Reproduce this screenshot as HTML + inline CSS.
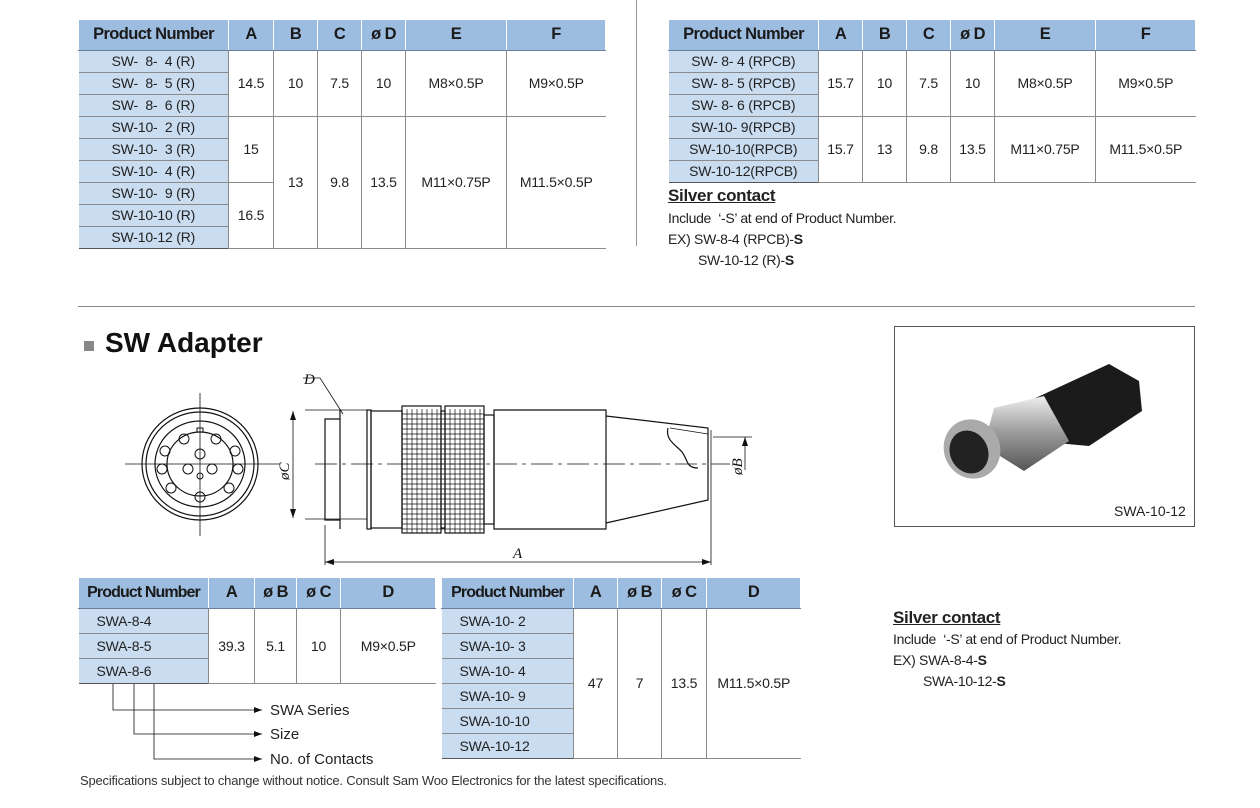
<!DOCTYPE html>
<html><head><meta charset="utf-8">
<style>
body{margin:0;width:1260px;height:808px;background:#fff;position:relative;overflow:hidden;font-family:"Liberation Sans",Arial,sans-serif;color:#222}
.t{position:absolute;border-collapse:collapse;table-layout:fixed;font-size:14px;letter-spacing:-0.2px}
.t td{padding:0;text-align:center;border:1px solid #8a8a8a;white-space:nowrap;overflow:hidden}
.t tr td:first-child{border-left:none}
.t tr td:last-child{border-right:none}
.t tr.h td{background:#9dbde0;font-weight:bold;font-size:16.5px;letter-spacing:-0.6px;border-top:none;border-left:1px solid #fff;border-right:1px solid #fff;border-bottom:1px solid #6a7f99;color:#1a1a1a}
.t td.p{background:#c9dcf0}
.t tr:last-child td{border-bottom:1px solid #555}
.abs{position:absolute;white-space:nowrap}
</style></head><body>

<table class="t" style="left:78px;top:20px;width:527px">
<colgroup><col style="width:150px"><col style="width:45px"><col style="width:44px"><col style="width:44px"><col style="width:44px"><col style="width:101px"><col style="width:99px"></colgroup>
<tr class="h" style="height:30px"><td>Product Number</td><td>A</td><td>B</td><td>C</td><td>ø D</td><td>E</td><td>F</td></tr>
<tr style="height:22px"><td class="p">SW-&nbsp; 8-&nbsp; 4 (R)</td><td rowspan="3">14.5</td><td rowspan="3">10</td><td rowspan="3">7.5</td><td rowspan="3">10</td><td rowspan="3">M8×0.5P</td><td rowspan="3">M9×0.5P</td></tr>
<tr style="height:22px"><td class="p">SW-&nbsp; 8-&nbsp; 5 (R)</td></tr>
<tr style="height:22px"><td class="p">SW-&nbsp; 8-&nbsp; 6 (R)</td></tr>
<tr style="height:22px"><td class="p">SW-10-&nbsp; 2 (R)</td><td rowspan="3">15</td><td rowspan="6">13</td><td rowspan="6">9.8</td><td rowspan="6">13.5</td><td rowspan="6">M11×0.75P</td><td rowspan="6">M11.5×0.5P</td></tr>
<tr style="height:22px"><td class="p">SW-10-&nbsp; 3 (R)</td></tr>
<tr style="height:22px"><td class="p">SW-10-&nbsp; 4 (R)</td></tr>
<tr style="height:22px"><td class="p">SW-10-&nbsp; 9 (R)</td><td rowspan="3">16.5</td></tr>
<tr style="height:22px"><td class="p">SW-10-10 (R)</td></tr>
<tr style="height:22px"><td class="p">SW-10-12 (R)</td></tr>
</table>

<div class="abs" style="left:636px;top:0;width:1px;height:246px;background:#999"></div>

<table class="t" style="left:668px;top:20px;width:527px">
<colgroup><col style="width:150px"><col style="width:44px"><col style="width:44px"><col style="width:44px"><col style="width:44px"><col style="width:101px"><col style="width:100px"></colgroup>
<tr class="h" style="height:30px"><td>Product Number</td><td>A</td><td>B</td><td>C</td><td>ø D</td><td>E</td><td>F</td></tr>
<tr style="height:22px"><td class="p">SW- 8- 4 (RPCB)</td><td rowspan="3">15.7</td><td rowspan="3">10</td><td rowspan="3">7.5</td><td rowspan="3">10</td><td rowspan="3">M8×0.5P</td><td rowspan="3">M9×0.5P</td></tr>
<tr style="height:22px"><td class="p">SW- 8- 5 (RPCB)</td></tr>
<tr style="height:22px"><td class="p">SW- 8- 6 (RPCB)</td></tr>
<tr style="height:22px"><td class="p">SW-10- 9(RPCB)</td><td rowspan="3">15.7</td><td rowspan="3">13</td><td rowspan="3">9.8</td><td rowspan="3">13.5</td><td rowspan="3">M11×0.75P</td><td rowspan="3">M11.5×0.5P</td></tr>
<tr style="height:22px"><td class="p">SW-10-10(RPCB)</td></tr>
<tr style="height:22px"><td class="p">SW-10-12(RPCB)</td></tr>
</table>

<div class="abs" style="left:668px;top:186px;font-size:17px;font-weight:bold;text-decoration:underline;letter-spacing:-0.3px">Silver contact</div>
<div class="abs" style="left:668px;top:210px;font-size:14px;letter-spacing:-0.3px">Include &nbsp;‘-S’ at end of Product Number.</div>
<div class="abs" style="left:668px;top:231px;font-size:14px;letter-spacing:-0.3px">EX) SW-8-4 (RPCB)-<b>S</b></div>
<div class="abs" style="left:698px;top:252px;font-size:14px;letter-spacing:-0.3px">SW-10-12 (R)-<b>S</b></div>

<div class="abs" style="left:78px;top:306px;width:1117px;height:1px;background:#888"></div>

<div class="abs" style="left:84px;top:341px;width:10px;height:10px;background:#888"></div>
<div class="abs" style="left:105px;top:327px;font-size:28px;font-weight:bold;color:#111">SW Adapter</div>

<svg class="abs" style="left:0;top:0" width="1260" height="808" viewBox="0 0 1260 808">
<g fill="none" stroke="#111" stroke-width="1.2">
<ellipse cx="200" cy="464" rx="58" ry="56"/>
<ellipse cx="200" cy="464" rx="54" ry="52"/>
<ellipse cx="200" cy="464" rx="45" ry="43"/>
<ellipse cx="200" cy="464" rx="33" ry="32"/>
<g stroke-width="1">
<circle cx="184" cy="439" r="5"/><circle cx="216" cy="439" r="5"/><circle cx="165" cy="451" r="5"/><circle cx="235" cy="451" r="5"/>
<circle cx="200" cy="454" r="5"/><circle cx="162" cy="469" r="5"/><circle cx="188" cy="469" r="5"/><circle cx="212" cy="469" r="5"/><circle cx="238" cy="469" r="5"/>
<circle cx="171" cy="488" r="5"/><circle cx="229" cy="488" r="5"/><circle cx="200" cy="497" r="5"/><circle cx="200" cy="476" r="3"/>
<rect x="197" y="428" width="6" height="4"/>
</g>
<line x1="125" y1="464" x2="280" y2="464" stroke-width="0.8"/>
<line x1="200" y1="393" x2="200" y2="536" stroke-width="0.8"/>
<polyline points="340,419 325,419 325,520 340,520"/>
<line x1="340" y1="410" x2="340" y2="529"/>
<line x1="305" y1="410" x2="367" y2="410" stroke-width="0.8"/>
<line x1="305" y1="519" x2="367" y2="519" stroke-width="0.8"/>
<rect x="367" y="410" width="4" height="119"/>
<rect x="371" y="411" width="31" height="117"/>
<rect x="402" y="406" width="39" height="127"/>
<rect x="441" y="411" width="4" height="117"/>
<rect x="445" y="406" width="39" height="127"/>
<rect x="484" y="415" width="10" height="109"/>
<path d="M494,410 L606,410 L606,529 L494,529 Z"/>
<path d="M606,416 L708,428 L708,500 L606,523"/>
<path d="M668,428 C665,440 676,445 682,452 C688,460 686,468 698,468"/>
<path d="M670,428 L708,434" stroke-width="0.8"/>
</g>
<g stroke="#111" stroke-width="0.7">
<path d="M407,409 V533 M412,409 V533 M417,409 V533 M422,409 V533 M427,409 V533 M432,409 V533 M437,409 V533" />
<path d="M450,409 V533 M455,409 V533 M460,409 V533 M465,409 V533 M470,409 V533 M475,409 V533 M480,409 V533" />
<path d="M402,414 H484 M402,419 H484 M402,424 H484 M402,429 H484 M402,434 H484 M402,439 H484 M402,444 H484 M402,449 H484 M402,454 H484 M402,459 H484 M402,464 H484 M402,469 H484 M402,474 H484 M402,479 H484 M402,484 H484 M402,489 H484 M402,494 H484 M402,499 H484 M402,504 H484 M402,509 H484 M402,514 H484 M402,519 H484 M402,524 H484 M402,529 H484"/>
</g>
<g stroke="#111" stroke-width="0.8" fill="none">
<line x1="315" y1="464" x2="730" y2="464" stroke-dasharray="22,5,4,5"/>
<line x1="293" y1="411" x2="293" y2="518"/>
<line x1="325" y1="525" x2="325" y2="565"/>
<line x1="711" y1="430" x2="711" y2="565"/>
<line x1="325" y1="562" x2="711" y2="562"/>
<line x1="713" y1="437" x2="752" y2="437"/>
<line x1="745" y1="437" x2="745" y2="470"/>
<path d="M303,378 L320,378 L343,414"/>
<path d="M113,684 V710 H262 M134,684 V734 H262 M154,684 V759 H262"/>
</g>
<g fill="#111">
<path d="M293,411 l-3,9 h6z M293,518 l-3,-9 h6z M325,562 l9,-3 v6z M711,562 l-9,-3 v6z M745,437 l-3,9 h6z"/>
<path d="M254,707 l8,3 -8,3z M254,731 l8,3 -8,3z M254,756 l8,3 -8,3z"/>
</g>
<g font-family="Liberation Serif,serif" font-style="italic" font-size="15" fill="#111">
<text x="304" y="384">D</text>
<text x="513" y="558">A</text>
<text transform="translate(289,480) rotate(-90)">øC</text>
<text transform="translate(742,475) rotate(-90)">øB</text>
</g>
</svg>

<div class="abs" style="left:894px;top:326px;width:299px;height:199px;border:1px solid #555;background:#fff"></div>
<svg class="abs" style="left:894px;top:326px" width="300" height="200">
<defs><linearGradient id="m" x1="0" y1="0" x2="0" y2="1"><stop offset="0" stop-color="#eee"/><stop offset="0.5" stop-color="#999"/><stop offset="1" stop-color="#555"/></linearGradient></defs>
<path d="M135,75 L215,38 L245,55 L248,85 L195,120 L140,115 Z" fill="#1b1b1b"/>
<path d="M100,82 L150,70 L175,115 L130,145 L90,120 Z" fill="url(#m)"/>
<ellipse cx="78" cy="123" rx="28" ry="30" fill="#aaa" transform="rotate(-25 78 123)"/>
<ellipse cx="75" cy="126" rx="19" ry="22" fill="#222" transform="rotate(-25 75 126)"/>
</svg>
<div class="abs" style="left:1114px;top:503px;font-size:14px">SWA-10-12</div>

<table class="t" style="left:78px;top:578px;width:357px">
<colgroup><col style="width:130px"><col style="width:46px"><col style="width:42px"><col style="width:44px"><col style="width:95px"></colgroup>
<tr class="h" style="height:30px"><td style="letter-spacing:-0.9px;font-size:16px">Product Number</td><td>A</td><td>ø B</td><td>ø C</td><td>D</td></tr>
<tr style="height:25px"><td class="p" style="text-align:left;padding-left:18px">SWA-8-4</td><td rowspan="3">39.3</td><td rowspan="3">5.1</td><td rowspan="3">10</td><td rowspan="3">M9×0.5P</td></tr>
<tr style="height:25px"><td class="p" style="text-align:left;padding-left:18px">SWA-8-5</td></tr>
<tr style="height:25px"><td class="p" style="text-align:left;padding-left:18px">SWA-8-6</td></tr>
</table>

<table class="t" style="left:441px;top:578px;width:359px">
<colgroup><col style="width:132px"><col style="width:44px"><col style="width:44px"><col style="width:45px"><col style="width:94px"></colgroup>
<tr class="h" style="height:30px"><td style="letter-spacing:-0.9px;font-size:16px">Product Number</td><td>A</td><td>ø B</td><td>ø C</td><td>D</td></tr>
<tr style="height:25px"><td class="p" style="text-align:left;padding-left:18px">SWA-10- 2</td><td rowspan="6">47</td><td rowspan="6">7</td><td rowspan="6">13.5</td><td rowspan="6">M11.5×0.5P</td></tr>
<tr style="height:25px"><td class="p" style="text-align:left;padding-left:18px">SWA-10- 3</td></tr>
<tr style="height:25px"><td class="p" style="text-align:left;padding-left:18px">SWA-10- 4</td></tr>
<tr style="height:25px"><td class="p" style="text-align:left;padding-left:18px">SWA-10- 9</td></tr>
<tr style="height:25px"><td class="p" style="text-align:left;padding-left:18px">SWA-10-10</td></tr>
<tr style="height:25px"><td class="p" style="text-align:left;padding-left:18px">SWA-10-12</td></tr>
</table>

<div class="abs" style="left:270px;top:702px;font-size:15px">SWA Series</div>
<div class="abs" style="left:270px;top:726px;font-size:15px">Size</div>
<div class="abs" style="left:270px;top:751px;font-size:15px">No. of Contacts</div>

<div class="abs" style="left:893px;top:608px;font-size:17px;font-weight:bold;text-decoration:underline;letter-spacing:-0.3px">Silver contact</div>
<div class="abs" style="left:893px;top:631px;font-size:14px;letter-spacing:-0.3px">Include &nbsp;‘-S’ at end of Product Number.</div>
<div class="abs" style="left:893px;top:652px;font-size:14px;letter-spacing:-0.3px">EX) SWA-8-4-<b>S</b></div>
<div class="abs" style="left:923px;top:673px;font-size:14px;letter-spacing:-0.3px">SWA-10-12-<b>S</b></div>

<div class="abs" style="left:80px;top:773px;font-size:13px;color:#333;letter-spacing:-0.2px">Specifications subject to change without notice. Consult Sam Woo Electronics for the latest specifications.</div>
</body></html>
